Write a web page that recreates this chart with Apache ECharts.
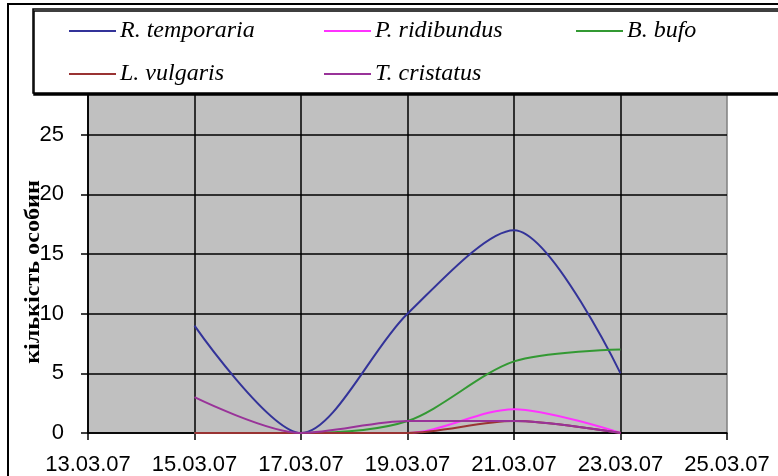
<!DOCTYPE html>
<html>
<head>
<meta charset="utf-8">
<script src="https://cdn.jsdelivr.net/npm/echarts@6/dist/echarts.min.js"></script>
<style>
html,body{margin:0;padding:0;background:#fff;}
#c{width:778px;height:476px;}
</style>
</head>
<body>
<div id="c"></div>
<script>
// ---- data ----
var dates = ['15.03.07', '17.03.07', '19.03.07', '21.03.07', '23.03.07'];
var xTickLabels = ['13.03.07', '15.03.07', '17.03.07', '19.03.07', '21.03.07', '23.03.07', '25.03.07'];
var yTickLabels = ['0', '5', '10', '15', '20', '25'];
var seriesNames = ['R. temporaria', 'P. ridibundus', 'B. bufo', 'L. vulgaris', 'T. cristatus'];
var rTemporaria = [9, 0, 10, 17, 5];
var pRidibundus = [0, 0, 0, 2, 0];
var bBufo = [0, 0, 1, 6, 7];
var lVulgaris = [0, 0, 0, 1, 0];
var tCristatus = [3, 0, 1, 1, 0];
var yTitle = 'кількість особин';

// ---- build ----
var startDay = parseInt(xTickLabels[0].slice(0, 2), 10);
function toX(d) { return parseInt(d.slice(0, 2), 10) - startDay; }
function pairs(vals) { return vals.map(function (v, i) { return [toX(dates[i]), v]; }); }

var colors = ['#333399', '#ff33ff', '#339933', '#993333', '#993399'];
var values = [rTemporaria, pRidibundus, bBufo, lVulgaris, tCristatus];

var series = seriesNames.map(function (n, i) {
  return {
    name: n, type: 'line', data: pairs(values[i]), smooth: 0.3,
    showSymbol: false, symbol: 'none',
    lineStyle: { color: colors[i], width: 2 },
    itemStyle: { color: colors[i] },
    z: 2
  };
});

var legendPos = [[69, 19], [324, 19], [576, 19], [69, 62], [324, 62]];
var legends = seriesNames.map(function (n, i) {
  return {
    data: [n], left: legendPos[i][0], top: legendPos[i][1], padding: 0,
    icon: 'rect', itemWidth: 47, itemHeight: 2, selectedMode: false,
    textStyle: { fontFamily: 'Liberation Serif', fontStyle: 'italic', fontSize: 24, color: '#000', padding: [0, 0, 0, -1] },
    z: 10
  };
});

var chart = echarts.init(document.getElementById('c'), null, { renderer: 'canvas' });
chart.setOption({
  animation: false,
  backgroundColor: '#fff',
  color: colors,
  legend: legends,
  grid: { left: 88, right: 51, top: 75, bottom: 43, show: true, backgroundColor: '#c0c0c0', borderColor: '#808080', borderWidth: 1.5 },
  xAxis: {
    type: 'value', min: 0, max: 12, interval: 2,
    axisLine: { show: true, onZero: false, lineStyle: { color: '#000', width: 1.5 } },
    axisTick: { show: true, length: 7, lineStyle: { color: '#000', width: 1.5 } },
    axisLabel: { margin: 21, fontFamily: 'Liberation Sans', fontSize: 22, color: '#000',
      formatter: function (v) { return xTickLabels[Math.round(v / 2)] || ''; } },
    splitLine: { show: true, showMaxLine: false, lineStyle: { color: '#000', width: 1.5 } }
  },
  yAxis: {
    type: 'value', min: 0, max: 30, interval: 5,
    axisLine: { show: true, lineStyle: { color: '#000', width: 1.5 } },
    axisTick: { show: true, length: 7, lineStyle: { color: '#000', width: 1.5 } },
    axisLabel: { margin: 24, fontFamily: 'Liberation Sans', fontSize: 22, color: '#000',
      formatter: function (v) { return yTickLabels[Math.round(v / 5)] || ''; } },
    splitLine: { show: true, lineStyle: { color: '#000', width: 1.5 } }
  },
  graphic: [
    { type: 'rect', z: 0, shape: { x: 8, y: 4, width: 800, height: 500 },
      style: { fill: null, stroke: '#000', lineWidth: 2 } },
    { type: 'rect', z: 5, shape: { x: 33, y: 9, width: 760, height: 84 },
      style: { fill: '#fff', stroke: '#000', lineWidth: 1.5, shadowColor: '#000', shadowOffsetX: 1, shadowOffsetY: 2, shadowBlur: 0 } },
    { type: 'text', z: 5, x: 34, y: 272, rotation: Math.PI / 2, scaleX: 1.15,
      style: { text: yTitle, font: 'bold 21px "Liberation Serif"', fill: '#000', align: 'center', verticalAlign: 'middle' } }
  ],
  series: series
});
</script>
</body>
</html>
